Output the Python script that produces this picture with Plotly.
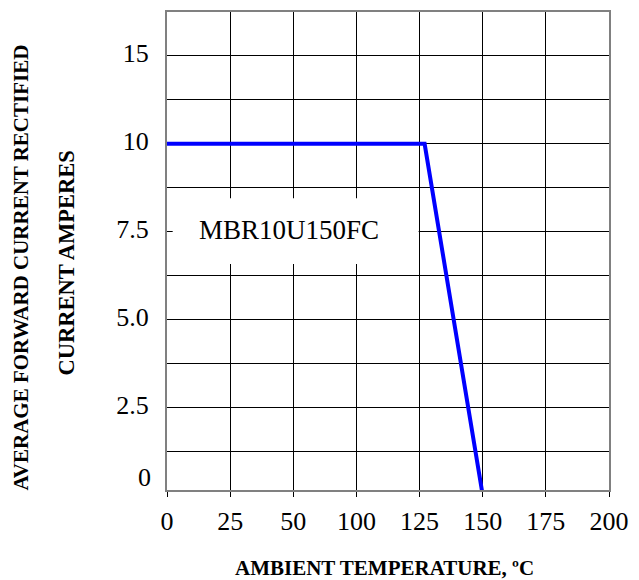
import numpy as np
import plotly.graph_objects as go

# ---- data ----
temperature_c = [0, 127, 150]
current_a = [10, 10, 0]

x_tick_temps = [0, 25, 50, 100, 125, 150, 175, 200]
x_tick_text = ["0", "25", "50", "100", "125", "150", "175", "200"]

y_tick_text = ["0", "2.5", "5.0", "7.5", "10", "15"]
y_tick_pos = [0.5, 2.5, 5.0, 7.5, 10.0, 12.5]

part_label = "MBR10U150FC"
x_title = "AMBIENT TEMPERATURE, ºC"
y_title_1 = "AVERAGE FORWARD CURRENT RECTIFIED"
y_title_2 = "CURRENT AMPERES"

# ---- mapping (temperature -> grid index of the printed scale) ----
grid_idx = list(range(len(x_tick_temps)))
x_pos = np.interp(temperature_c, x_tick_temps, grid_idx)

y_grid = [1.25 * k for k in range(1, 11)]
y_ticktext = []
for v in y_grid:
    lab = ""
    for p, t in zip(y_tick_pos, y_tick_text):
        if abs(p - v) < 1e-9:
            lab = t
    y_ticktext.append(lab)

FONT = "Liberation Serif, Times New Roman, serif"

fig = go.Figure()
fig.add_trace(go.Scatter(x=x_pos, y=current_a, mode="lines",
                         line=dict(color="#0000FF", width=4),
                         showlegend=False, hoverinfo="skip"))

# white label box
fig.add_shape(type="rect", xref="x", yref="y", x0=0.09, x1=3.985, y0=6.58, y1=8.45,
              fillcolor="white", line=dict(width=0), layer="between")
fig.add_annotation(x=1.93, y=7.55, xref="x", yref="y", text=part_label, showarrow=False,
                   xanchor="center", yanchor="middle",
                   font=dict(family=FONT, size=27, color="black"))

# "0" y label
fig.add_annotation(x=0, y=y_tick_pos[0], xref="paper", yref="y", text=y_tick_text[0],
                   showarrow=False, xanchor="right", yanchor="middle", xshift=-14,
                   font=dict(family=FONT, size=26, color="black"))

# axis titles
fig.add_annotation(x=(385 - 167) / 444, y=(490 - 568) / 480, xref="paper", yref="paper",
                   text="<b>" + x_title + "</b>", showarrow=False,
                   xanchor="center", yanchor="middle", borderpad=0,
                   font=dict(family=FONT, size=21, color="black"))
fig.add_annotation(x=(20 - 167) / 444, y=(490 - 267) / 480, xref="paper", yref="paper",
                   text="<b>" + y_title_1 + "</b>", showarrow=False, textangle=-90,
                   xanchor="center", yanchor="middle",
                   font=dict(family=FONT, size=21, color="black"))
fig.add_annotation(x=(66 - 167) / 444, y=(490 - 262) / 480, xref="paper", yref="paper",
                   text="<b>" + y_title_2 + "</b>", showarrow=False, textangle=-90,
                   xanchor="center", yanchor="middle",
                   font=dict(family=FONT, size=22.5, color="black"))

fig.update_layout(
    width=639, height=580,
    margin=dict(l=167, r=28, t=10, b=90),
    paper_bgcolor="white", plot_bgcolor="white",
    font=dict(family=FONT, color="black"),
    xaxis=dict(range=[0, 7], tickmode="array", tickvals=grid_idx, ticktext=x_tick_text,
               showgrid=True, gridcolor="#000000", gridwidth=1,
               ticks="outside", ticklen=5, tickcolor="#000000",
               showline=True, linecolor="#808080", linewidth=2, mirror=True,
               zeroline=False, tickfont=dict(size=26, family=FONT),
               ticklabelstandoff=2, fixedrange=True),
    yaxis=dict(range=[0.15, 13.75], tickmode="array", tickvals=y_grid, ticktext=y_ticktext,
               showgrid=True, gridcolor="#000000", gridwidth=1, ticks="",
               showline=True, linecolor="#808080", linewidth=2, mirror=True,
               zeroline=False, tickfont=dict(size=26, family=FONT),
               ticklabelstandoff=11, ticklabelshift=-3, fixedrange=True),
)

fig.write_html("out.html")
